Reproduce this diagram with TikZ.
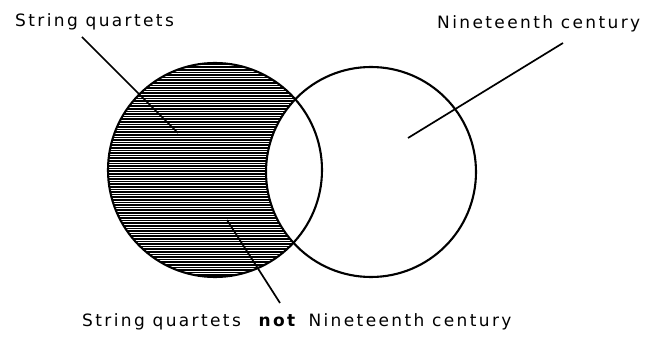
\documentclass[tikz,border=0pt]{standalone}
\usepackage{fontspec}
\newfontfamily\lblfont[LetterSpace=14]{DejaVu Sans}
\begin{document}
\begin{tikzpicture}[x=1pt,y=-1pt,
  lbl/.style={font=\lblfont\fontsize{17}{20}\selectfont, inner sep=0pt},
  ring/.style={draw, line width=2.1pt, circle, inner sep=0pt, outer sep=0pt},
  hatch/.style={line width=1.7pt},
  leader/.style={line width=1.7pt}]
\useasboundingbox (0,0) rectangle (657,339);
% hatching of left circle minus right circle
\begin{scope}[even odd rule]
  \clip (215,170) circle[radius=107];
  \clip (215,170) circle[radius=107] (371,172) circle[radius=105];
  \foreach \y in {62,64.6,...,280} \draw[hatch] (100,\y) -- (330,\y);
\end{scope}
\node[ring, minimum size=214pt] (A) at (215,170) {};
\node[ring, minimum size=210pt] (B) at (371,172) {};
% labels
\node[lbl, anchor=base west] (sq) at (15,27) {String quartets};
\node[lbl, anchor=base west] (nc) at (437,29) {Nineteenth century};
\node[lbl, anchor=base west] (sn) at (82,327) {String quartets\hspace{10pt} \textbf{not}\hspace{3pt} Nineteenth century};
% leader ends
\coordinate (sqa) at (82,37);
\coordinate (sqb) at (178,133);
\coordinate (nca) at (563,43);
\coordinate (ncb) at (408,138);
\coordinate (sna) at (280,303);
\coordinate (snb) at (227,220);
\draw[leader] (sqa) -- (sqb);
\draw[leader] (nca) -- (ncb);
\draw[leader] (sna) -- (snb);
\end{tikzpicture}
\end{document}
